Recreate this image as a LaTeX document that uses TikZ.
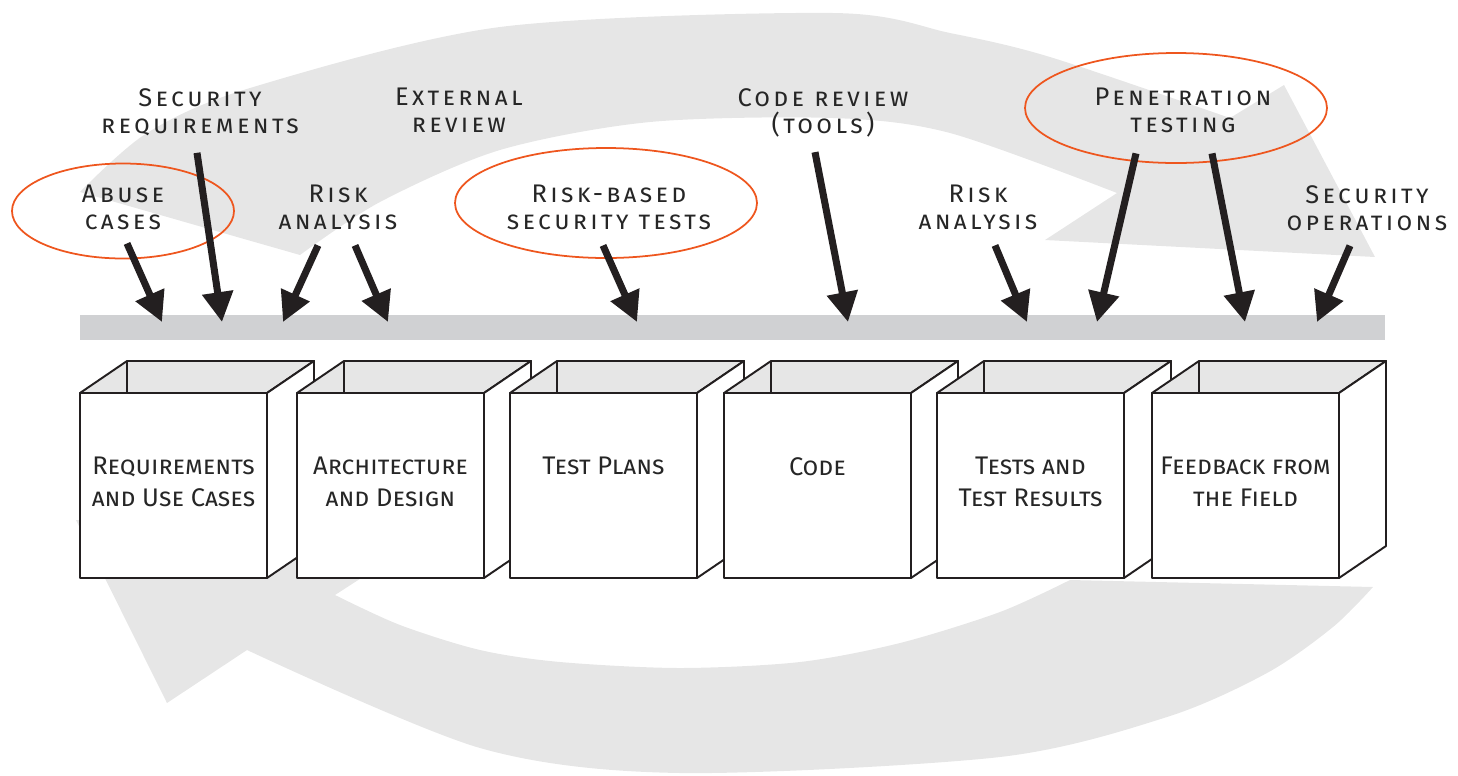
\documentclass[tikz,border=0pt]{standalone}
\usepackage{fontspec}
\setmainfont{Fira Sans}
\newfontfamily\spacedsc[LetterSpace=13]{Fira Sans}
\usetikzlibrary{arrows.meta,calc}

\definecolor{ringgray}{RGB}{230,230,230}
\definecolor{bargray}{RGB}{208,209,211}
\definecolor{touchorange}{RGB}{238,86,30}
\definecolor{inkblack}{RGB}{35,31,32}

\tikzset{
	boxline/.style={line width=1.1pt, draw=inkblack, line join=round},
	toplabel/.style={font=\fontsize{14.5}{15.3}\spacedsc\scshape, text=black!85, align=center, inner sep=0pt, anchor=north},
	boxlabel/.style={font=\fontsize{14.5}{18}\selectfont\scshape, text=black!85, align=center, inner sep=0pt, anchor=north},
	touch/.style={line width=1pt, draw=touchorange},
	pointer/.style={line width=4pt, draw=inkblack, -{Triangle[length=17pt,width=17pt]}}
}

% open box: front top-left corner, node name, label
\def\openbox(#1,#2)#3#4{%
	\draw[boxline, fill=ringgray] (#1,#2) -- ++(47,-32) -- ++(187,0) -- ++(-47,32) -- cycle;
	\draw[boxline] (#1,#2) ++(47,-32) -- ++(0,32);
	\draw[boxline, fill=white] (#1,#2) ++(187,0) -- ++(47,-32) -- ++(0,185) -- ++(-47,32) -- cycle;
	\draw[boxline, fill=white] (#1,#2) rectangle ++(187,185);
	\node[boxlabel] (#3) at ({#1+93.5},{#2+64}) {#4};
}

\begin{document}
\begin{tikzpicture}[x=0.02cm, y=-0.02cm]
		%%%%% START %%%%%
		\useasboundingbox (0,0) rectangle (1458,775);
		
		% upper half of the cycle
		\fill[ringgray] plot[smooth] coordinates {(80,192) (147,133) (250,88) (500,27) (833,13) (950,33) (1050,57) (1230,118)}
			-- (1284,85) -- (1375,257) -- (1045,240)
			-- plot[smooth] coordinates {(1117,193) (950,133) (833,118) (650,122) (500,150) (380,202) (300,255)} -- cycle;
		
		% lower half of the cycle
		\fill[ringgray] (414,544) -- (76,520) -- (167,703)
			-- plot[smooth] coordinates {(247,650) (480,748) (680,773) (1000,757) (1167,717) (1267,673) (1333,627) (1373,587)}
			-- plot[smooth] coordinates {(1070,580) (1000,612) (900,643) (800,662) (680,668) (560,662) (480,650) (400,625) (335,595)} -- cycle;
		
		% the bar the touchpoints land on
		\fill[bargray] (80,315) rectangle (1385,340);
		
		\draw[touch] (123,211) ellipse [x radius=111, y radius=47.5];
		\draw[touch] (606,203) ellipse [x radius=151, y radius=55];
		\draw[touch] (1176,108) ellipse [x radius=151, y radius=55];
		
		\node[toplabel] (abuse) at (123,185) {Abuse\\cases};
		\node[toplabel] (secreq) at (200,88) {Security\\requirements};
		\node[toplabel] (extrev) at (459,88) {External\\review};
		\node[toplabel] (riskA) at (338,185) {Risk\\analysis};
		\node[toplabel] (risktests) at (609,185) {Risk-based\\security tests};
		\node[toplabel] (codereview) at (823,88) {Code review\\(tools)};
		\node[toplabel] (riskB) at (978,185) {Risk\\analysis};
		\node[toplabel] (pentest) at (1183,88) {Penetration\\testing};
		\node[toplabel] (secops) at (1367,185) {Security\\operations};
		
		\coordinate (abuse end) at (162,322);
		\coordinate (secreq end) at (222,322);
		\coordinate (riskA end1) at (283,322);
		\coordinate (riskA end2) at (388,322);
		\coordinate (risktests end) at (637,322);
		\coordinate (codereview end) at (848,322);
		\coordinate (riskB end) at (1027,322);
		\coordinate (pentest end1) at (1097,322);
		\coordinate (pentest end2) at (1245,322);
		\coordinate (secops end) at (1317,322);
		
		\draw[pointer] ($(abuse.south)+(4,13)$) -- (abuse end);
		\draw[pointer] ($(secreq.south)+(-3,17)$) -- (secreq end);
		\draw[pointer] ($(riskA.south)+(-20,15)$) -- (riskA end1);
		\draw[pointer] ($(riskA.south)+(17,15)$) -- (riskA end2);
		\draw[pointer] ($(risktests.south)+(-6,15)$) -- (risktests end);
		\draw[pointer] ($(codereview.south)+(-8,15)$) -- (codereview end);
		\draw[pointer] ($(riskB.south)+(17,15)$) -- (riskB end);
		\draw[pointer] ($(pentest.south)+(-47,20)$) -- (pentest end1);
		\draw[pointer] ($(pentest.south)+(29,20)$) -- (pentest end2);
		\draw[pointer] ($(secops.south)+(-17,15)$) -- (secops end);
		
		% the artifacts
		\openbox(80,393){reqs}{Requirements\\and Use Cases}
		\openbox(297,393){design}{Architecture\\and Design}
		\openbox(510,393){plans}{Test Plans}
		\openbox(724,393){code}{Code}
		\openbox(937,393){results}{Tests and\\Test Results}
		\openbox(1152,393){field}{Feedback from\\the Field}
		
		%%%%% END %%%%%
	\end{tikzpicture}
\end{document}
